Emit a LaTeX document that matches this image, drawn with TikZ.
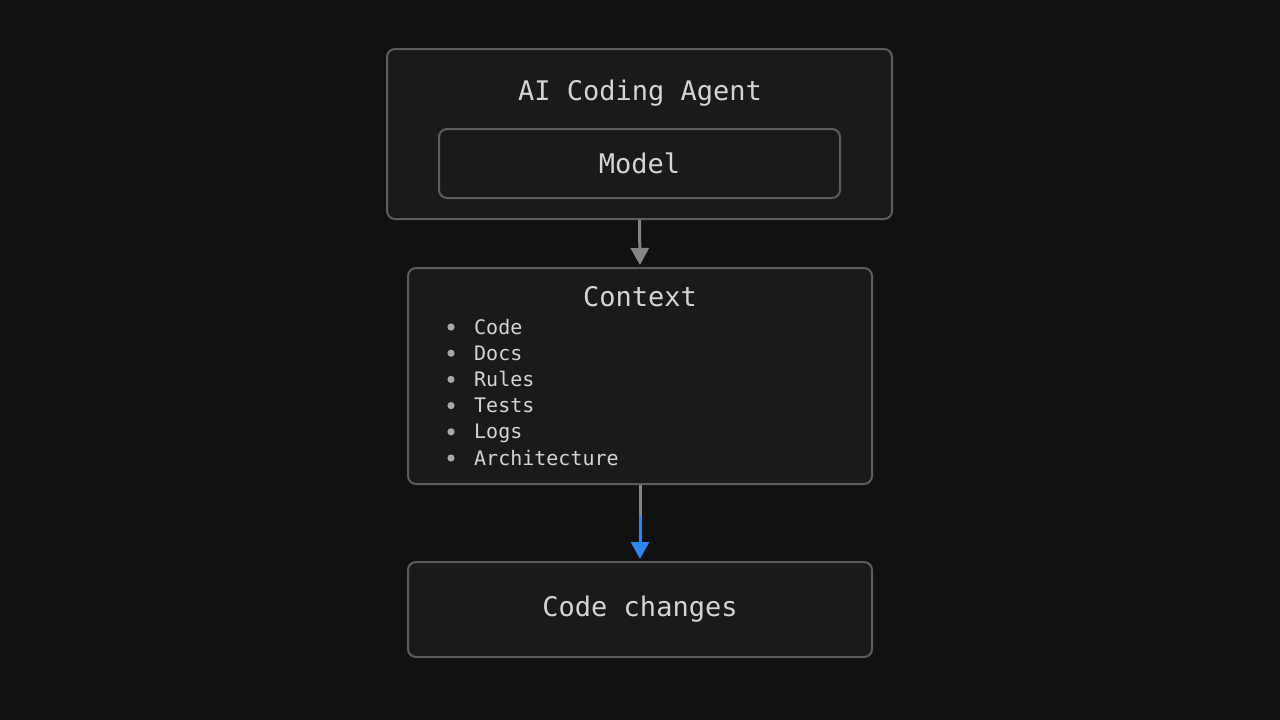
\documentclass[tikz,border=0pt]{standalone}
\usepackage{fontspec}
\setmonofont{DejaVu Sans Mono}
\usepackage{xcolor}
\usepackage{tikz}
\usetikzlibrary{arrows.meta}
\definecolor{bgcol}{HTML}{111112}
\definecolor{boxcol}{HTML}{1A1A1C}
\definecolor{edgecol}{HTML}{5C5C5E}
\definecolor{txtcol}{HTML}{D4D4D4}
\definecolor{dotcol}{HTML}{A8A8A8}
\definecolor{arrcol}{HTML}{858585}
\definecolor{bluecol}{HTML}{2E86F2}

\begin{document}
\begin{tikzpicture}[x=1pt,y=-1pt]
    \tikzstyle{every node}+=[inner sep=0pt, text=txtcol, font=\ttfamily]
    \tikzstyle{box}=[draw=edgecol, line width=2pt, rounded corners=8pt, fill=boxcol]
    \tikzstyle{flow}=[draw=arrcol, line width=3pt, -{Triangle[width=18pt,length=17pt]}]
    \tikzstyle{bigtxt}=[font=\ttfamily\fontsize{27}{32}\selectfont]
    \tikzstyle{smalltxt}=[font=\ttfamily\fontsize{20}{24}\selectfont]
    \fill [bgcol] (0,0) rectangle (1280,720);
    \useasboundingbox (0,0) rectangle (1280,720);
    \node [box, minimum width=505pt, minimum height=170pt] (agent) at (639.5,134) {};
    \node [bigtxt, anchor=base] (agentlbl) at (640,100) {AI Coding Agent};
    \node [box, bigtxt, minimum width=401pt, minimum height=69pt] (model) at (639.5,163.5) {Model};
    \node [box, minimum width=464pt, minimum height=216pt] (ctx) at (640,376) {};
    \node [bigtxt, anchor=base] (ctxlbl) at (640,306) {Context};
    \foreach \item [count=\i] in {Code,Docs,Rules,Tests,Logs,Architecture} {
        \fill [dotcol] (451,{327+26.2*(\i-1)}) circle (3.6);
        \node [smalltxt, anchor=base west] (item\i) at (474,{334+26.2*(\i-1)}) {\item};
    }
    \node [box, bigtxt, minimum width=464pt, minimum height=95pt] (out) at (640,609.5) {Code changes};
    \coordinate (split) at (640,515);
    \draw [flow, shorten >=2pt] (agent.south) -- (ctx.north);
    \draw [arrcol, line width=3pt] (ctx.south) -- (split);
    \draw [flow, draw=bluecol, fill=bluecol, shorten >=2pt] (split) -- (out.north);
\end{tikzpicture}
\end{document}
